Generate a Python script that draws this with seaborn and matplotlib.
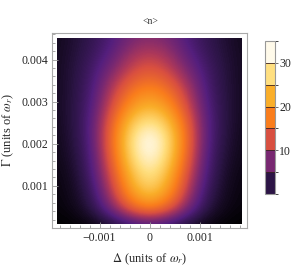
import numpy as np
import matplotlib
matplotlib.use("Agg")
import matplotlib.pyplot as plt
import seaborn as sns
from matplotlib.colors import LinearSegmentedColormap, ListedColormap, BoundaryNorm, Normalize
from matplotlib.patches import Rectangle
from matplotlib.ticker import MultipleLocator, FuncFormatter
import matplotlib.cm as cm

# detuning (units of omega_r) and linewidth grid
delta = [-0.00185, -0.00148, -0.00111, -0.00074, -0.00037, 0.0,
         0.00037, 0.00074, 0.00111, 0.00148, 0.00185]
gamma = [0.0001, 0.0005, 0.0009, 0.0013, 0.0017, 0.0021,
         0.0025, 0.0029, 0.0033, 0.0037, 0.0041, 0.0045]

# <n> on the grid, one row per gamma value (bottom to top)
n_mean = [
    [0.4, 0.5, 0.9, 1.8, 3.2, 4.0, 3.2, 1.8, 0.9, 0.5, 0.4],
    [0.7, 1.2, 3.0, 8.0, 15.0, 19.0, 15.0, 8.0, 3.0, 1.2, 0.7],
    [0.8, 1.5, 4.0, 11.0, 21.0, 26.0, 21.0, 11.0, 4.0, 1.5, 0.8],
    [0.9, 1.8, 5.0, 13.0, 24.0, 29.0, 24.0, 13.0, 5.0, 1.8, 0.9],
    [1.1, 2.2, 5.5, 15.0, 27.0, 32.0, 27.0, 15.0, 5.5, 2.2, 1.1],
    [1.2, 2.5, 6.0, 16.0, 28.0, 33.0, 28.0, 16.0, 6.0, 2.5, 1.2],
    [1.3, 2.7, 6.0, 15.0, 25.0, 29.0, 25.0, 15.0, 6.0, 2.7, 1.3],
    [1.4, 2.7, 5.5, 12.5, 20.0, 23.0, 20.0, 12.5, 5.5, 2.7, 1.4],
    [1.4, 2.6, 5.0, 10.5, 16.0, 18.5, 16.0, 10.5, 5.0, 2.6, 1.4],
    [1.4, 2.5, 4.5, 8.0, 12.0, 14.0, 12.0, 8.0, 4.5, 2.5, 1.4],
    [1.4, 2.3, 3.8, 6.0, 9.5, 11.0, 9.5, 6.0, 3.8, 2.3, 1.4],
    [1.3, 2.1, 3.3, 5.0, 7.2, 8.0, 7.2, 5.0, 3.3, 2.1, 1.3],
]

bar_bounds = [0.3, 5, 10, 15, 20, 25, 30, 33.4]
bar_ticks = [10, 20, 30]

sns.set_style("ticks")
plt.rcParams["font.family"] = ["Liberation Serif", "DejaVu Serif"]
plt.rcParams["mathtext.fontset"] = "stix"

# sunset-like colour scale
sunset = LinearSegmentedColormap.from_list("sunset", [
    (0.00, (0.00, 0.00, 0.00)),
    (0.07, (0.17, 0.08, 0.27)),
    (0.15, (0.33, 0.12, 0.49)),
    (0.22, (0.48, 0.16, 0.44)),
    (0.30, (0.68, 0.22, 0.35)),
    (0.37, (0.85, 0.31, 0.25)),
    (0.52, (0.98, 0.49, 0.11)),
    (0.67, (0.98, 0.68, 0.16)),
    (0.82, (1.00, 0.87, 0.49)),
    (0.95, (1.00, 0.98, 0.92)),
    (1.00, (1.00, 1.00, 1.00)),
])
vmin, vmax = bar_bounds[0], bar_bounds[-1]

fig = plt.figure(figsize=(2.91, 2.79), dpi=100)
ax = fig.add_axes([52 / 291, 1 - 228 / 279, 195 / 291, 195 / 279])

z = np.array(n_mean)
dx = delta[1] - delta[0]
dy = gamma[1] - gamma[0]
im = ax.imshow(z, origin="lower", aspect="auto", interpolation="bicubic",
               cmap=sunset, vmin=vmin, vmax=vmax,
               extent=[delta[0] - dx / 2, delta[-1] + dx / 2,
                       gamma[0] - dy / 2, gamma[-1] + dy / 2])
clip = Rectangle((delta[0], gamma[0]), delta[-1] - delta[0], gamma[-1] - gamma[0],
                 transform=ax.transData, facecolor="none", edgecolor="none")
ax.add_patch(clip)
im.set_clip_path(clip)

ax.set_xlim(-0.00195, 0.00195)
ax.set_ylim(0.0, 0.00463)

fmt = FuncFormatter(lambda v, p: ("%g" % round(v, 6)).replace("-", "\u2212"))
ax.xaxis.set_major_locator(MultipleLocator(0.001))
ax.xaxis.set_minor_locator(MultipleLocator(0.0002))
ax.yaxis.set_major_locator(MultipleLocator(0.001))
ax.yaxis.set_minor_locator(MultipleLocator(0.0002))
ax.xaxis.set_major_formatter(fmt)
ax.yaxis.set_major_formatter(fmt)
ax.set_yticks([0.001, 0.002, 0.003, 0.004])
ax.tick_params(which="both", direction="in", color="#999999", width=0.6,
               labelsize=8.5, pad=3, top=False, right=False)
ax.tick_params(which="major", length=4)
ax.tick_params(which="minor", length=2)
for s in ax.spines.values():
    s.set_color("#aaaaaa")
    s.set_linewidth(0.8)

ax.set_xlabel(r"$\Delta$ (units of $\omega_r$)", fontsize=9, labelpad=5)
ax.set_ylabel(r"$\Gamma$ (units of $\omega_r$)", fontsize=9, labelpad=4)
fig.text(150 / 291, 1 - 21 / 279, "<n>", fontsize=7, color="#333333",
         ha="center", va="center")

# banded legend bar
mids = [(a + b) / 2 for a, b in zip(bar_bounds[:-1], bar_bounds[1:])]
band_cmap = ListedColormap([sunset(Normalize(vmin, vmax)(m)) for m in mids])
band_norm = BoundaryNorm(bar_bounds, band_cmap.N)
cax = fig.add_axes([265 / 291, 1 - 194 / 279, 10 / 291, 153 / 279])
cb = fig.colorbar(cm.ScalarMappable(norm=band_norm, cmap=band_cmap), cax=cax,
                  ticks=bar_ticks, drawedges=True)
cb.dividers.set_color("#3a2020")
cb.dividers.set_linewidth(0.6)
cb.outline.set_edgecolor("#999999")
cb.outline.set_linewidth(0.8)
cax.tick_params(labelsize=8.5, length=2, width=0.6, color="#555555", pad=1)

fig.savefig("out.png", dpi=100)
